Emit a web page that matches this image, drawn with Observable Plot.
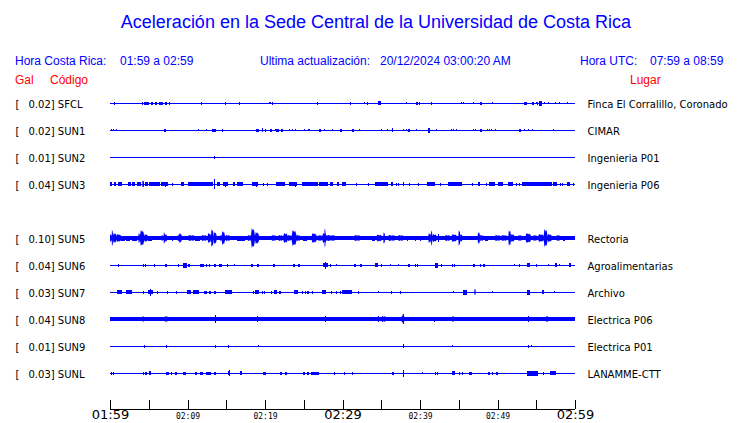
<!DOCTYPE html>
<html><head><meta charset="utf-8">
<script src="https://cdn.jsdelivr.net/npm/d3@7"></script>
<script src="https://cdn.jsdelivr.net/npm/@observablehq/plot@0.6"></script>
<style>
body{margin:0;background:#fff;}
#wrap{position:relative;width:740px;height:423px;overflow:hidden;font-family:"Liberation Sans",Arial,sans-serif;background:#fff;}
.t{position:absolute;white-space:pre;line-height:1;font-size:12px;color:#0000ff;}
.r{color:#ff0000;}
#title{position:absolute;left:0;width:752px;text-align:center;top:13px;font-size:18px;line-height:1;color:#0000ff;}
#chart{position:absolute;left:0;top:90px;}
</style></head><body>
<div id="wrap">
  <div id="title">Aceleración en la Sede Central de la Universidad de Costa Rica</div>
  <span class="t" style="left:15px;top:55px">Hora Costa Rica:</span>
  <span class="t" style="left:120px;top:55px">01:59 a 02:59</span>
  <span class="t" style="left:260px;top:55px">Ultima actualización:</span>
  <span class="t" style="left:380px;top:55px">20/12/2024 03:00:20 AM</span>
  <span class="t" style="left:580px;top:55px">Hora UTC:</span>
  <span class="t" style="left:650px;top:55px">07:59 a 08:59</span>
  <span class="t r" style="left:15px;top:74px">Gal</span>
  <span class="t r" style="left:50px;top:74px">Código</span>
  <span class="t r" style="left:630px;top:74px">Lugar</span>
  <div id="chart"></div>
</div>
<script>
// station slots (SUN4 slot is empty in the display)
const slots = ["SFCL","SUN1","SUN2","SUN3","SUN4","SUN5","SUN6","SUN7","SUN8","SUN9","SUNL"];
const codes = ["SFCL","SUN1","SUN2","SUN3","SUN5","SUN6","SUN7","SUN8","SUN9","SUNL"];
const peakGal = [0.02,0.02,0.01,0.04,0.10,0.04,0.03,0.04,0.01,0.03];
const places = ["Finca El Corralillo, Coronado","CIMAR","Ingenieria P01","Ingenieria P06","Rectoria","Agroalimentarias","Archivo","Electrica P06","Electrica P01","LANAMME-CTT"];

// time axis, minutes after 01:59
const tickMinutes = [0,5,10,15,20,25,30,35,40,45,50,55,60];
const labelMinutes = [0,10,20,30,40,50,60];
const labelTexts = ["01:59","02:09","02:19","02:29","02:39","02:49","02:59"];
const majorLabels = ["01:59","02:29","02:59"];

// waveform envelopes: [minute, amplitude] spikes or [startMinute, endMinute, amplitude] bursts
const sfcl = [[0.56,1.5],[4.17,1.5],[4.39,5.08,1.5],[5.33,1.5],[5.42,5.55,1.5],[5.85,6.0,1.5],[6.37,6.88,1.5],[7.10,7.31,1.5],[7.66,1.5],[11.70,1.5],[14.88,1.5],[16.69,1.5],[20.56,20.75,1],[20.90,1.5],[26.75,1.5],[31.01,1.5],[32.82,1],[33.20,1.5],[34.58,34.92,2],[38.15,1],[39.48,39.78,1.5],[39.91,1.5],[41.46,1.5],[45.29,1],[45.51,1],[46.88,1],[47.74,47.96,1.5],[49.25,49.46,1],[53.46,53.76,1.5],[54.49,54.71,1.5],[54.92,1],[55.10,1.5],[55.40,55.70,2.5],[56.00,1],[56.56,1],[57.42,1],[57.98,1],[58.97,1]];
const sun1 = [[0.13,1],[0.39,1],[0.77,1],[6.95,7.2,1.5],[11.40,1],[12.39,1],[13.16,13.63,1.5],[14.49,1.5],[18.84,19.18,1.5],[19.66,2],[20.04,1.5],[20.69,20.86,1.5],[21.25,1],[21.46,21.76,1.5],[22.06,22.28,1.5],[23.14,1],[23.48,1],[23.91,1],[25.07,1],[25.55,1],[25.72,1],[27.01,27.18,1.5],[27.66,1],[28.69,1],[29.68,29.89,1.5],[31.23,31.44,1.5],[32.09,1],[35.01,1],[35.70,1],[36.39,36.56,2],[37.81,1],[38.24,1],[38.45,38.67,1.5],[39.53,1],[41.08,41.33,2.5],[42.11,1],[44.04,1],[44.26,1],[44.69,1],[46.88,1],[47.14,1],[47.74,47.96,1.5],[48.65,1],[48.90,1],[49.16,1],[49.72,1],[52.82,53.03,1.5],[53.46,1],[53.98,1],[54.49,1],[57.20,1]];
const sun2 = [[13.40,13.60,1.5]];
const sun3 = [[0,0.22,1.8],[0.56,0.77,1.8],[1.08,1.59,1.8],[2.28,2.71,1.8],[2.80,3.23,1.8],[3.48,3.96,1.8],[4.17,4.39,3.5],[4.52,4.86,1.8],[5.08,5.68,1.8],[5.72,6.45,1.8],[6.58,7.53,1.8],[7.05,7.2,2.5],[7.96,1.5],[9.12,9.55,1.8],[10.11,13.33,1.8],[13.42,13.55,5],[13.76,14.19,1.8],[14.62,15.18,1.8],[14.80,14.92,2.5],[15.87,16.13,1.8],[16.34,17.12,1.8],[18.28,19.14,1.8],[18.88,19.0,2.5],[19.78,1.5],[20.30,1.5],[21.42,22.58,1.8],[23.05,24.09,1.8],[23.83,23.95,2.5],[24.73,26.88,1.8],[27.01,28.09,1.8],[28.43,28.82,2.2],[29.33,29.59,1.8],[29.98,30.41,1.8],[31.74,1.5],[33.33,1.5],[34.24,35.91,1.8],[36.22,36.56,1.8],[36.86,1.5],[37.20,1.5],[37.76,37.98,1.8],[38.58,1.5],[39.78,1.5],[40.95,41.94,1.8],[42.54,1.5],[43.66,45.38,1.8],[46.67,1.5],[47.44,47.74,1.8],[48.47,1.5],[48.90,49.68,1.8],[50.11,50.75,1.8],[51.40,52.04,1.8],[52.34,1.5],[52.77,1.5],[53.20,56.99,1.8],[57.12,57.63,1.8],[58.06,1.5],[58.37,1.5],[58.97,59.35,1.8],[59.78,1.5]];
const sun5 = [[0,28,1.7],[28,60,2.2],[0,0.22,4],[0.22,0.39,8.5],[0.39,0.86,5],[0.86,1.42,4],[1.42,1.94,2.5],[2.02,2.58,2.5],[2.80,3.44,2.5],[3.66,3.87,5],[3.87,4.43,8],[4.43,4.86,4],[4.86,5.38,2.5],[5.72,2],[6.24,2],[6.67,6.88,3],[6.92,7.10,6],[7.10,7.35,4],[7.96,2.5],[8.73,8.90,3.5],[8.90,9.25,5],[9.51,2],[10.11,10.88,3],[10.97,11.61,2.5],[11.83,12.47,3],[12.60,13.03,5],[13.03,13.38,9],[13.38,13.76,6],[14.19,14.41,3],[14.41,14.84,7],[14.92,15.48,3],[15.70,2],[16.34,17.42,2.5],[17.76,18.19,3],[18.19,18.71,10],[18.71,19.23,6],[19.57,20.0,2],[20.86,21.38,3],[21.72,22.24,3],[22.37,22.92,5],[22.92,23.35,3],[23.44,24.09,8],[24.09,24.52,3],[24.95,25.38,2.5],[26.02,26.67,5],[26.88,27.31,3],[27.40,27.96,5],[27.66,27.83,10],[27.96,29.03,3],[31.53,32.26,3],[33.76,34.19,2.5],[34.41,35.05,3.5],[35.27,35.48,6],[35.91,36.77,3],[37.20,37.85,3],[38.28,2.5],[39.35,2.5],[40.0,2.5],[41.08,41.42,5],[41.42,41.59,8],[41.59,42.15,4],[42.37,4],[43.23,43.87,3],[44.09,44.73,4],[44.95,45.20,8],[45.20,45.46,4],[47.44,47.74,6],[47.74,48.17,3],[48.39,48.82,2.5],[49.68,50.32,3],[50.54,51.18,3],[51.40,51.74,8],[51.74,52.17,4],[52.69,53.12,3],[53.63,54.32,5],[54.62,55.05,3],[55.27,55.96,4],[55.96,56.47,9],[56.47,56.99,4],[57.63,58.06,3],[58.49,58.71,2.5]];
const sun6 = [[1.08,1.5],[4.30,1.5],[4.52,1.5],[5.63,1.5],[7.10,7.31,1.5],[8.82,1.5],[9.46,9.89,2.5],[9.62,9.74,4.5],[10.11,10.32,1.5],[11.61,12.17,1.5],[12.39,1.5],[12.82,1.5],[13.42,13.63,1.5],[14.11,14.41,1.5],[15.14,1.5],[16.0,1],[18.19,18.49,1.5],[18.92,19.23,1.5],[21.08,21.29,1.5],[23.66,23.87,1.5],[24.30,24.56,1.5],[27.53,28.09,2],[27.77,27.90,3.5],[28.43,1.5],[29.12,1],[31.44,31.70,1.5],[32.30,32.47,1.5],[34.19,34.62,2],[34.92,1.5],[36.13,1],[37.20,1],[38.49,38.71,1.5],[39.35,1.5],[39.61,39.78,1.5],[41.94,42.37,2.5],[42.71,1.5],[44.17,1.5],[44.43,1.5],[46.88,47.10,1.5],[47.74,1.5],[48.09,48.39,1.5],[52.17,1],[52.77,1.5],[53.85,54.19,2],[54.92,55.14,1.5],[56.47,1],[57.42,57.63,2],[57.98,1],[59.25,59.46,2]];
const sun7 = [[0.86,1.51,2],[2.02,2.88,2],[4.22,4.43,1.5],[4.95,5.59,2],[5.19,5.31,3.5],[6.02,1.5],[7.31,1.5],[8.52,1.5],[9.89,10.41,2],[10.75,11.48,2],[12.13,12.47,1.5],[12.82,13.03,1.5],[13.42,13.63,1.5],[14.84,15.70,2],[18.49,1.5],[18.71,19.23,2],[19.57,1.5],[19.91,1.5],[20.73,1.5],[21.16,21.59,2],[21.85,22.06,1.5],[23.74,24.22,2],[24.73,1.5],[25.20,1.5],[25.46,25.72,1.5],[26.06,1.5],[27.40,27.87,2],[28.52,1.5],[29.16,1.5],[29.68,1.5],[29.98,31.18,2],[32.04,1.5],[34.62,1],[36.26,1.5],[37.42,1.5],[44.30,1],[45.51,46.02,2.5],[47.01,47.18,3],[49.25,1],[53.85,54.19,2.5],[55.70,56.04,2],[57.29,1]];
const sun8 = [[0,60,1.8],[0,1.72,2.2],[4.22,4.39,3],[7.10,7.44,3],[13.50,13.62,4],[19.01,3],[23.87,2],[27.74,3],[31.10,1],[34.62,3],[35.05,35.57,3],[37.63,37.98,4],[37.80,37.92,5],[41.85,2.5],[44.17,44.39,3],[47.61,2],[52.47,1],[53.89,3],[55.10,2],[56.26,56.56,3],[57.42,60,2.2]];
const sun9 = [[4.34,1.5],[7.27,1.5],[13.59,1.5],[15.27,1.5],[19.10,1],[37.85,37.98,2],[44.17,1],[53.89,1.5],[54.28,1]];
const sunl = [[0.13,1.5],[0.39,1.5],[4.22,1.5],[4.52,4.82,1.5],[5.08,5.25,2],[7.23,7.61,1.5],[7.87,1.5],[8.39,8.65,1.5],[9.46,9.81,1.5],[11.01,11.23,1.5],[11.61,11.96,1.5],[12.34,1.5],[12.56,13.03,1.5],[13.38,13.68,1.5],[15.27,15.48,2],[15.30,15.42,3],[16.77,16.99,2],[19.78,20.09,1.5],[21.94,22.24,1.5],[22.58,22.80,1.5],[24.86,1.5],[25.08,1.5],[25.42,25.68,1.5],[25.89,27.01,1.5],[28.86,29.03,1.5],[30.15,1.5],[31.18,1.5],[36.43,36.69,1.5],[37.76,37.98,2],[37.82,37.94,3.5],[40.22,1],[41.94,1.5],[42.24,1.5],[44.09,44.52,2],[45.03,1.5],[45.38,1.5],[46.32,46.67,1.5],[48.82,49.03,1.5],[49.25,1.5],[49.76,50.11,1.5],[53.76,55.27,2.5],[55.91,1.5],[56.77,57.55,2]];

const traces = {SFCL: sfcl, SUN1: sun1, SUN2: sun2, SUN3: sun3, SUN5: sun5, SUN6: sun6, SUN7: sun7, SUN8: sun8, SUN9: sun9, SUNL: sunl};

// ---- build tables ----
const rowPx = 27; // amplitude units per trace spacing
const stations = codes.map((code, i) => ({code, gal: peakGal[i], place: places[i], slot: slots.indexOf(code)}));
const all = stations.flatMap(s => traces[s.code].map(e => {
  const [t0, t1, a] = e.length === 2 ? [e[0], e[0] + 0.13, e[1]] : e;
  return {slot: s.slot, t0, t1, a};
}));
// small events and long noise bands drawn as solid blocks; strong short bursts drawn as spindle envelopes
const isBurst = d => d.a >= 3 && (d.t1 - d.t0) > 0.15 && (d.t1 - d.t0) < 5;
const blocks = all.filter(d => !isBurst(d)).map(d => ({x1: d.t0, x2: d.t1, y1: d.slot - d.a / rowPx, y2: d.slot + d.a / rowPx}));
const bursts = all.filter(isBurst).flatMap((d, id) => {
  const mid = (d.t0 + d.t1) / 2, b = Math.min(2.2, d.a) / rowPx, p = d.a / rowPx;
  return [
    {id, x: d.t0, y1: d.slot - b, y2: d.slot + b},
    {id, x: d.t0 + (d.t1 - d.t0) * 0.2, y1: d.slot - p, y2: d.slot + p},
    {id, x: mid, y1: d.slot - p * 0.75, y2: d.slot + p * 0.75},
    {id, x: d.t1 - (d.t1 - d.t0) * 0.3, y1: d.slot - p * 0.9, y2: d.slot + p * 0.9},
    {id, x: d.t1, y1: d.slot - b, y2: d.slot + b}
  ];
});
const labels = labelMinutes.map((m, i) => ({m, text: labelTexts[i], major: majorLabels.includes(labelTexts[i])}));
const axisRow = 11 + 1 / 3, tickTopRow = 11;

const chart = Plot.plot({
  width: 740, height: 333,
  marginLeft: 110, marginRight: 165, marginTop: 0, marginBottom: 0,
  x: {domain: [0, 60], range: [110, 575], axis: null},
  y: {domain: [0, 10], range: [13, 283], axis: null},
  style: {fontFamily: "DejaVu Sans", fontSize: "10px", color: "black", background: "white", overflow: "visible"},
  marks: [
    Plot.ruleY(stations, {y: "slot", x1: () => 0, x2: () => 60, stroke: "#0000ff", strokeWidth: 1, shapeRendering: "crispEdges"}),
    Plot.rect(blocks, {x1: "x1", x2: "x2", y1: "y1", y2: "y2", fill: "#0000ff", shapeRendering: "crispEdges"}),
    Plot.areaY(bursts, {x: "x", y1: "y1", y2: "y2", z: "id", fill: "#0000ff"}),
    Plot.text(stations, {x: () => 0, y: "slot", text: () => "[", dx: -95, dy: 1, textAnchor: "start", fill: "black"}),
    Plot.text(stations, {x: () => 0, y: "slot", text: d => `${d.gal.toFixed(2)}] ${d.code}`, dx: -82, dy: 1, textAnchor: "start", fill: "black"}),
    Plot.text(stations, {x: () => 60, y: "slot", text: "place", dx: 12, dy: 1, textAnchor: "start", fill: "black"}),
    Plot.ruleY([axisRow], {x1: () => 0, x2: () => 60, stroke: "black", strokeWidth: 1, shapeRendering: "crispEdges"}),
    Plot.ruleX(tickMinutes, {x: d => d, y1: () => tickTopRow, y2: () => axisRow, stroke: "black", strokeWidth: 1, shapeRendering: "crispEdges"}),
    Plot.text(labels.filter(d => d.major), {x: "m", y: () => 11.70, text: "text", lineAnchor: "bottom", textAnchor: "middle", fontSize: 13, fontFamily: "DejaVu Sans", fill: "black"}),
    Plot.text(labels.filter(d => !d.major), {x: "m", y: () => 11.67, text: "text", lineAnchor: "bottom", textAnchor: "middle", fontSize: 8, fontFamily: "DejaVu Sans Mono", fill: "black"})
  ]
});
document.getElementById("chart").appendChild(chart);
</script>
</body></html>
